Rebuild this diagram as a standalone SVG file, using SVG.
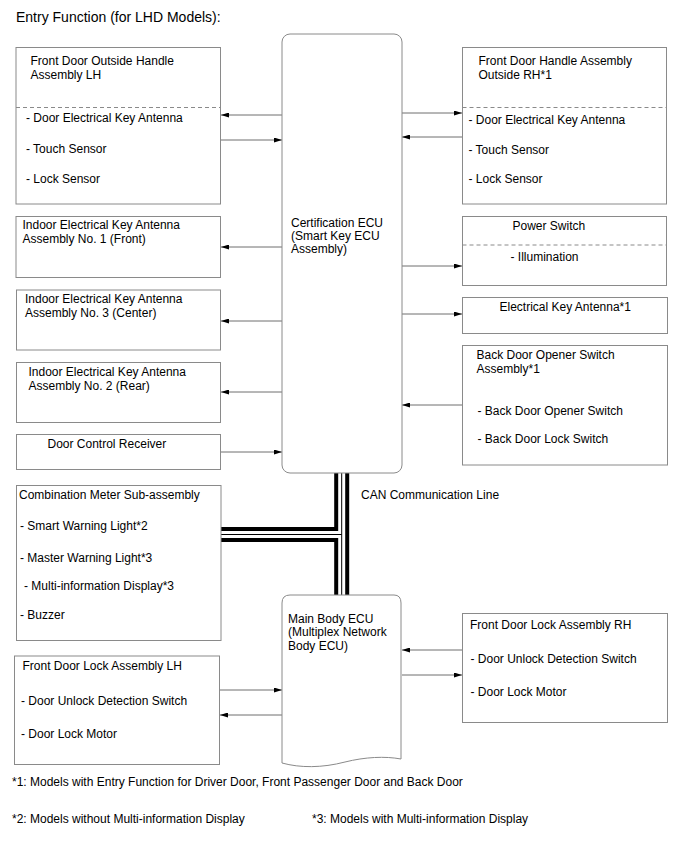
<svg xmlns="http://www.w3.org/2000/svg" width="688" height="852" viewBox="0 0 688 852">
<defs>
<style>
text{font-family:"Liberation Sans",Arial,sans-serif;font-size:12px;fill:#000}
.title{font-size:14px}
.box{fill:#fff;stroke:#8a8a8a;stroke-width:1}
.dash{stroke:#8a8a8a;stroke-width:1;stroke-dasharray:4,3;fill:none}
.ln{stroke:#6e6e6e;stroke-width:1;fill:none}
.can1{stroke:#000;stroke-width:15;fill:none}
.can2{stroke:#fff;stroke-width:7;fill:none}
.can3{stroke:#000;stroke-width:1;fill:none}
</style>
<marker id="ah" markerUnits="userSpaceOnUse" viewBox="0 0 8 5" refX="8" refY="2.5" markerWidth="8" markerHeight="5" orient="auto">
<path d="M0,0 L8,2.5 L0,5 z" fill="#000"/>
</marker>
</defs>
<rect width="688" height="852" fill="#fff"/>
<text class="title" x="16" y="22">Entry Function (for LHD Models):</text>

<g id="connectors">
<line class="ln" x1="282" y1="115" x2="221" y2="115" marker-end="url(#ah)"/>
<line class="ln" x1="221" y1="140" x2="282" y2="140" marker-end="url(#ah)"/>
<line class="ln" x1="402" y1="113" x2="462" y2="113" marker-end="url(#ah)"/>
<line class="ln" x1="462" y1="137" x2="402" y2="137" marker-end="url(#ah)"/>
<line class="ln" x1="282" y1="247" x2="221" y2="247" marker-end="url(#ah)"/>
<line class="ln" x1="282" y1="321" x2="221" y2="321" marker-end="url(#ah)"/>
<line class="ln" x1="282" y1="392" x2="221" y2="392" marker-end="url(#ah)"/>
<line class="ln" x1="221" y1="452" x2="282" y2="452" marker-end="url(#ah)"/>
<line class="ln" x1="402" y1="266" x2="462" y2="266" marker-end="url(#ah)"/>
<line class="ln" x1="402" y1="314" x2="462" y2="314" marker-end="url(#ah)"/>
<line class="ln" x1="462" y1="405" x2="402" y2="405" marker-end="url(#ah)"/>
<line class="ln" x1="220" y1="690" x2="282" y2="690" marker-end="url(#ah)"/>
<line class="ln" x1="282" y1="715" x2="220" y2="715" marker-end="url(#ah)"/>
<line class="ln" x1="462" y1="650" x2="402" y2="650" marker-end="url(#ah)"/>
<line class="ln" x1="402" y1="675" x2="462" y2="675" marker-end="url(#ah)"/>
<g id="can-line">
<path class="can1" d="M341.7,473 V596 M221,534.5 H341.7"/>
<path class="can2" d="M341.7,473 V596 M221,534.5 H341.7"/>
<path class="can3" d="M341.7,473 V596 M221,534.5 H341.7"/>
</g>
<text x="361" y="499">CAN Communication Line</text>
</g>

<g id="cert-ecu">
<rect class="box" x="282" y="34" width="120" height="439" rx="8"/>
<text x="291" y="227">Certification ECU</text>
<text x="291" y="240">(Smart Key ECU</text>
<text x="291" y="253">Assembly)</text>
</g>

<g id="main-body-ecu">
<path class="box" d="M282,763 V603 Q282,595 290,595 H394 Q401,595 401,603 V759 C385,756 365,757 345,762 C322,768 300,768 282,763 Z"/>
<text x="288" y="623">Main Body ECU</text>
<text x="288" y="636">(Multiplex Network</text>
<text x="288" y="650">Body ECU)</text>
</g>

<g id="fd-outside-lh">
<rect class="box" x="16" y="47.5" width="204.5" height="156.5"/>
<line class="dash" x1="16" y1="107.5" x2="220.5" y2="107.5"/>
<text x="30.5" y="65">Front Door Outside Handle</text>
<text x="30.5" y="78.5">Assembly LH</text>
<text x="26" y="122">- Door Electrical Key Antenna</text>
<text x="26" y="153">- Touch Sensor</text>
<text x="26" y="183">- Lock Sensor</text>
</g>

<g id="fd-outside-rh">
<rect class="box" x="462.5" y="47.5" width="204" height="156.5"/>
<line class="dash" x1="462.5" y1="107.5" x2="666.5" y2="107.5"/>
<text x="478.5" y="65">Front Door Handle Assembly</text>
<text x="478.5" y="78.5">Outside RH*1</text>
<text x="468.5" y="124">- Door Electrical Key Antenna</text>
<text x="468.5" y="154">- Touch Sensor</text>
<text x="468.5" y="183">- Lock Sensor</text>
</g>

<g id="indoor-ant-1">
<rect class="box" x="16" y="216.5" width="204.5" height="61"/>
<text x="22.5" y="228.5">Indoor Electrical Key Antenna</text>
<text x="22.5" y="242.5">Assembly No. 1 (Front)</text>
</g>

<g id="indoor-ant-3">
<rect class="box" x="16.5" y="290" width="204" height="60"/>
<text x="25" y="302.5">Indoor Electrical Key Antenna</text>
<text x="25" y="316.5">Assembly No. 3 (Center)</text>
</g>

<g id="indoor-ant-2">
<rect class="box" x="16.5" y="362.5" width="204" height="60"/>
<text x="28.5" y="376">Indoor Electrical Key Antenna</text>
<text x="28.5" y="390">Assembly No. 2 (Rear)</text>
</g>

<g id="door-control-receiver">
<rect class="box" x="16.5" y="434.5" width="204" height="35"/>
<text x="47.5" y="447.5">Door Control Receiver</text>
</g>

<g id="power-switch">
<rect class="box" x="462.5" y="216.5" width="204" height="69"/>
<line class="dash" x1="462.5" y1="245" x2="666.5" y2="245"/>
<text x="512.5" y="229.5">Power Switch</text>
<text x="510.5" y="260.5">- Illumination</text>
</g>

<g id="electrical-key-antenna">
<rect class="box" x="462.5" y="297.5" width="205" height="36"/>
<text x="499.5" y="311">Electrical Key Antenna*1</text>
</g>

<g id="back-door-opener">
<rect class="box" x="462.5" y="345.5" width="205" height="119.5"/>
<text x="476.5" y="358.5">Back Door Opener Switch</text>
<text x="476.5" y="372.5">Assembly*1</text>
<text x="477.5" y="415">- Back Door Opener Switch</text>
<text x="477.5" y="443">- Back Door Lock Switch</text>
</g>

<g id="combination-meter">
<rect class="box" x="16.5" y="485.5" width="204.5" height="155"/>
<text x="19" y="498.5">Combination Meter Sub-assembly</text>
<text x="20" y="530">- Smart Warning Light*2</text>
<text x="20" y="562">- Master Warning Light*3</text>
<text x="24" y="590">- Multi-information Display*3</text>
<text x="20" y="618.5">- Buzzer</text>
</g>

<g id="fd-lock-lh">
<rect class="box" x="14.5" y="656" width="205" height="108.5"/>
<text x="22.5" y="669.5">Front Door Lock Assembly LH</text>
<text x="21" y="705">- Door Unlock Detection Switch</text>
<text x="21" y="738">- Door Lock Motor</text>
</g>

<g id="fd-lock-rh">
<rect class="box" x="462.5" y="613.5" width="205" height="109"/>
<text x="470" y="629">Front Door Lock Assembly RH</text>
<text x="470.5" y="663">- Door Unlock Detection Switch</text>
<text x="470.5" y="696">- Door Lock Motor</text>
</g>

<g id="footnotes">
<text x="12" y="786">*1: Models with Entry Function for Driver Door, Front Passenger Door and Back Door</text>
<text x="12" y="823">*2: Models without Multi-information Display</text>
<text x="312" y="823">*3: Models with Multi-information Display</text>
</g>
</svg>
